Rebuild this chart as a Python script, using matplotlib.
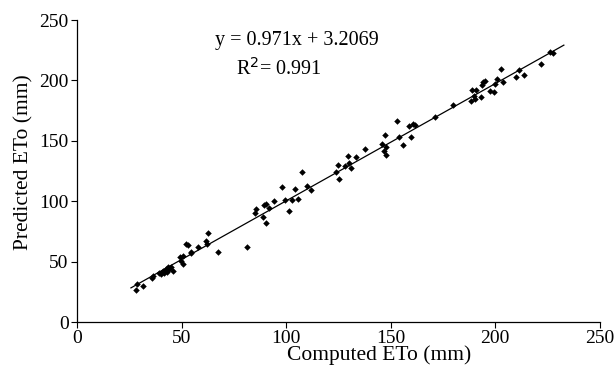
import matplotlib
matplotlib.use("Agg")
import matplotlib.pyplot as plt
import numpy as np

computed = [28.0, 28.6, 31.6, 36.1, 36.4, 39.4, 40.2, 41.3, 42.4, 43.5, 43.9, 45.0, 45.8, 41.7, 42.8,
            49.1, 50.6, 49.5, 50.6, 51.9, 53.2, 54.4, 54.7, 58.1, 61.7, 62.2, 62.8, 67.5, 81.1,
            85.0, 85.6, 88.8, 89.3, 90.6, 90.4, 91.7, 94.0, 98.1, 99.6, 101.5, 102.6, 104.3, 105.9,
            107.4, 110.2, 112.1, 123.7, 124.6, 125.4, 128.0, 129.7, 130.0, 130.8, 133.4, 137.9,
            145.9, 146.7, 147.2, 147.8, 147.8, 152.8, 154.1, 156.0, 158.8, 159.8, 160.9, 161.6,
            171.2, 179.6, 188.3, 188.7, 189.6, 190.3, 190.7, 193.0, 193.6, 194.9, 194.3, 197.7,
            199.6, 200.1, 201.0, 202.9, 203.8, 209.8, 211.3, 213.6, 222.0, 226.1, 227.4]
predicted = [26.9, 31.6, 29.9, 36.8, 38.5, 40.7, 39.6, 42.4, 44.0, 45.7, 43.5, 45.7, 42.4, 40.7, 41.8,
             54.0, 54.5, 50.7, 48.4, 65.0, 63.4, 56.8, 58.1, 62.3, 67.3, 64.2, 73.4, 58.1, 62.3,
             90.5, 93.6, 87.2, 97.2, 97.7, 81.9, 94.7, 100.2, 111.8, 101.3, 92.2, 101.1, 109.9, 102.2,
             123.8, 112.7, 109.4, 124.0, 129.8, 118.5, 129.3, 137.6, 131.5, 127.6, 136.5, 143.1,
             147.6, 142.0, 154.8, 145.3, 137.9, 166.4, 152.8, 146.2, 162.2, 153.1, 164.2, 162.8,
             170.0, 179.4, 183.3, 191.9, 186.9, 184.7, 191.9, 186.3, 196.3, 199.9, 198.5, 191.3,
             190.2, 197.4, 201.3, 209.9, 198.5, 203.2, 209.0, 204.6, 214.0, 223.4, 222.9]

slope = 0.971
intercept = 3.2069
line_x = [25.8, 232.8]
ticks = [0, 50, 100, 150, 200, 250]

plt.rcParams['font.family'] = ['Liberation Serif', 'DejaVu Serif']
fig = plt.figure(figsize=(6.14, 3.72), dpi=100)
ax = fig.add_axes([0.1254, 0.1344, 0.8515, 0.8116])

ax.scatter(computed, predicted, marker='D', s=11, color='black', zorder=3, linewidths=0)
lx = np.array(line_x)
ax.plot(lx, slope * lx + intercept, color='black', lw=0.9)

ax.set_xlim(0, 250)
ax.set_ylim(0, 250)
ax.set_xticks(ticks)
ax.set_yticks(ticks)
ax.spines['top'].set_visible(False)
ax.spines['right'].set_visible(False)
for s in ['left', 'bottom']:
    ax.spines[s].set_linewidth(0.9)
ax.tick_params(direction='out', length=4, width=0.8, labelsize=14, pad=2)
ax.set_xlabel('Computed ETo (mm)', fontsize=15.5)
ax.set_ylabel('Predicted ETo (mm)', fontsize=15.5)
ax.xaxis.set_label_coords(0.578, -0.078)
ax.yaxis.set_label_coords(-0.083, 0.53)

ax.text(105, 233, 'y = 0.971x + 3.2069', fontsize=14.5, ha='center', va='center')
ax.text(76, 210, r'R$^2$= 0.991', fontsize=14.5, ha='left', va='center')

fig.savefig('out.png', dpi=100)
